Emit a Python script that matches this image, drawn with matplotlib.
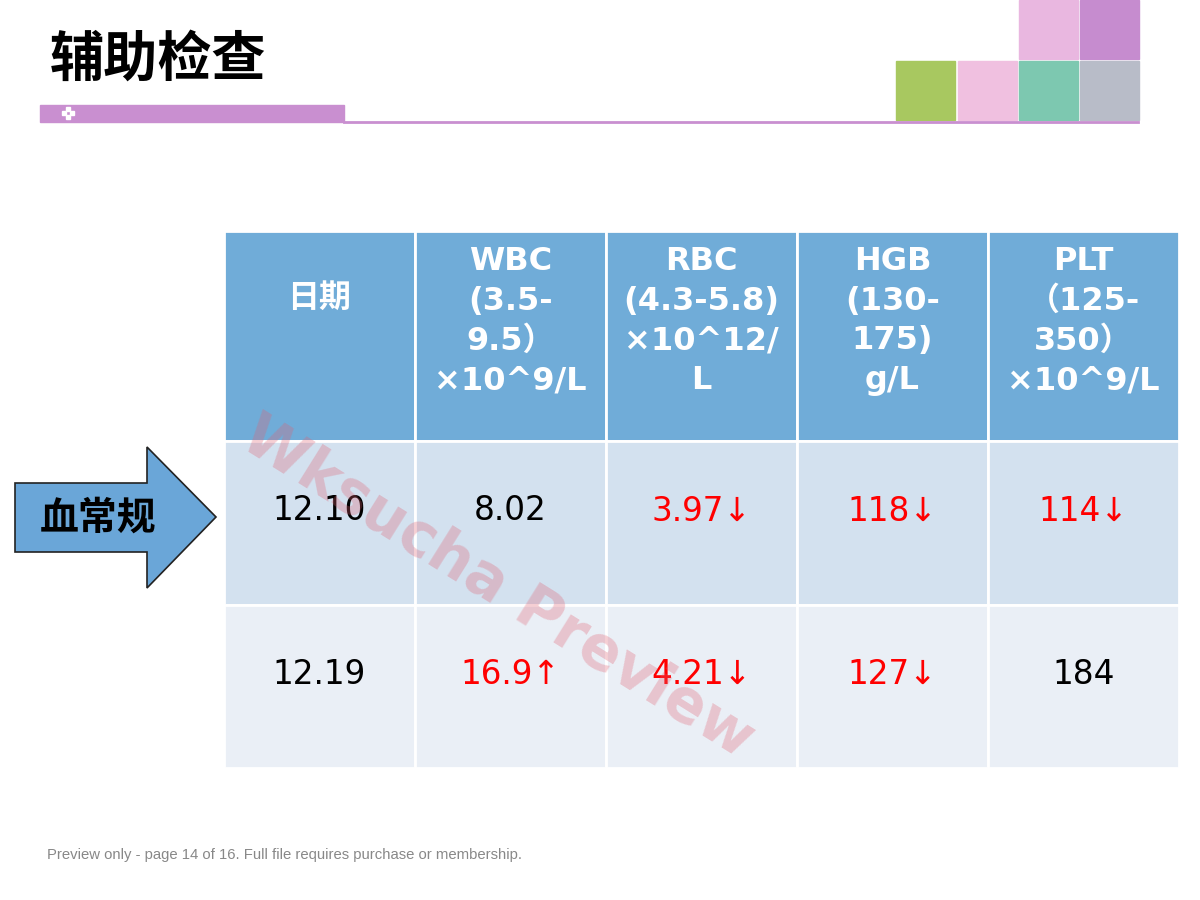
import matplotlib
matplotlib.use("Agg")
import matplotlib.pyplot as plt
from matplotlib.patches import Rectangle, Polygon

plt.rcParams['font.family'] = ['DejaVu Sans', 'Noto Sans CJK SC']

headers = ["日期", "WBC\n(3.5-\n9.5）\n×10^9/L", "RBC\n(4.3-5.8)\n×10^12/\nL",
           "HGB\n(130-\n175)\ng/L", "PLT\n（125-\n350）\n×10^9/L"]
rows = [["12.10", "8.02", "3.97↓", "118↓", "114↓"],
        ["12.19", "16.9↑", "4.21↓", "127↓", "184"]]
abnormal = [[False, False, True, True, True],
            [False, True, True, True, False]]

W, H = 1200, 900
fig = plt.figure(figsize=(12, 9), dpi=100)
ax = fig.add_axes([0, 0, 1, 1])
ax.set_xlim(0, W); ax.set_ylim(H, 0); ax.axis('off')

# title & decoration
ax.text(50, 60, "辅助检查", fontsize=39, fontweight='bold', va='center',
        family=['Noto Sans CJK SC', 'DejaVu Sans'])
ax.add_patch(Rectangle((40, 105), 304, 17, color='#c98fd0'))
ax.plot([344, 1138], [121.5, 121.5], color='#c98fd0', lw=2)
for dx, dy in [(0, -4), (-4, 0), (4, 0), (0, 4)]:
    ax.add_patch(Rectangle((66 + dx, 111 + dy), 4, 4, color='white'))
for (x, y, c) in [(1019, 0, '#e9b7e0'), (1080, 0, '#c68ccf'), (896, 61, '#a8c860'),
                  (958, 61, '#f0c0e0'), (1019, 61, '#7dc8b0'), (1080, 61, '#b8bcc8')]:
    ax.add_patch(Rectangle((x, y), 59, 59, color=c))

# table
xs = [224, 415, 606, 797, 988, 1179]
ys = [231, 441, 605, 768]
fills = ['#70acd8', '#d3e1ef', '#eaeff6']
for r in range(3):
    for c in range(5):
        ax.add_patch(Rectangle((xs[c], ys[r]), xs[c+1]-xs[c], ys[r+1]-ys[r],
                               facecolor=fills[r], edgecolor='white', lw=2))
        cx = (xs[c] + xs[c+1]) / 2; cy = (ys[r] + ys[r+1]) / 2
        if r == 0:
            ax.text(cx, cy - 38 if c == 0 else cy - 15, headers[c], color='white', fontsize=23,
                    fontweight='bold', ha='center', va='center', linespacing=1.37,
                    family=['DejaVu Sans', 'Noto Sans CJK SC'])
        else:
            ax.text(cx, cy - 12, rows[r-1][c], fontsize=23.5, ha='center', va='center',
                    color='#ff0000' if abnormal[r-1][c] else 'black')

# arrow
ax.add_patch(Polygon([(15, 483), (147, 483), (147, 447), (216, 517), (147, 588),
                      (147, 552), (15, 552)], closed=True, facecolor='#6aa6d8',
                     edgecolor='#222222', lw=1.2))
ax.text(98, 518, "血常规", fontsize=28, fontweight='bold', ha='center', va='center',
        family=['Noto Sans CJK SC', 'DejaVu Sans'])

# watermark
ax.text(497, 588, "Wksucha Preview", fontsize=43, fontweight='bold', color='#e06070',
        alpha=0.3, rotation=-32, ha='center', va='center')
ax.text(47, 855, "Preview only - page 14 of 16. Full file requires purchase or membership.",
        fontsize=10.7, color='#888888', va='center', family=['Liberation Sans', 'DejaVu Sans'])

fig.savefig("out.png", dpi=100)
